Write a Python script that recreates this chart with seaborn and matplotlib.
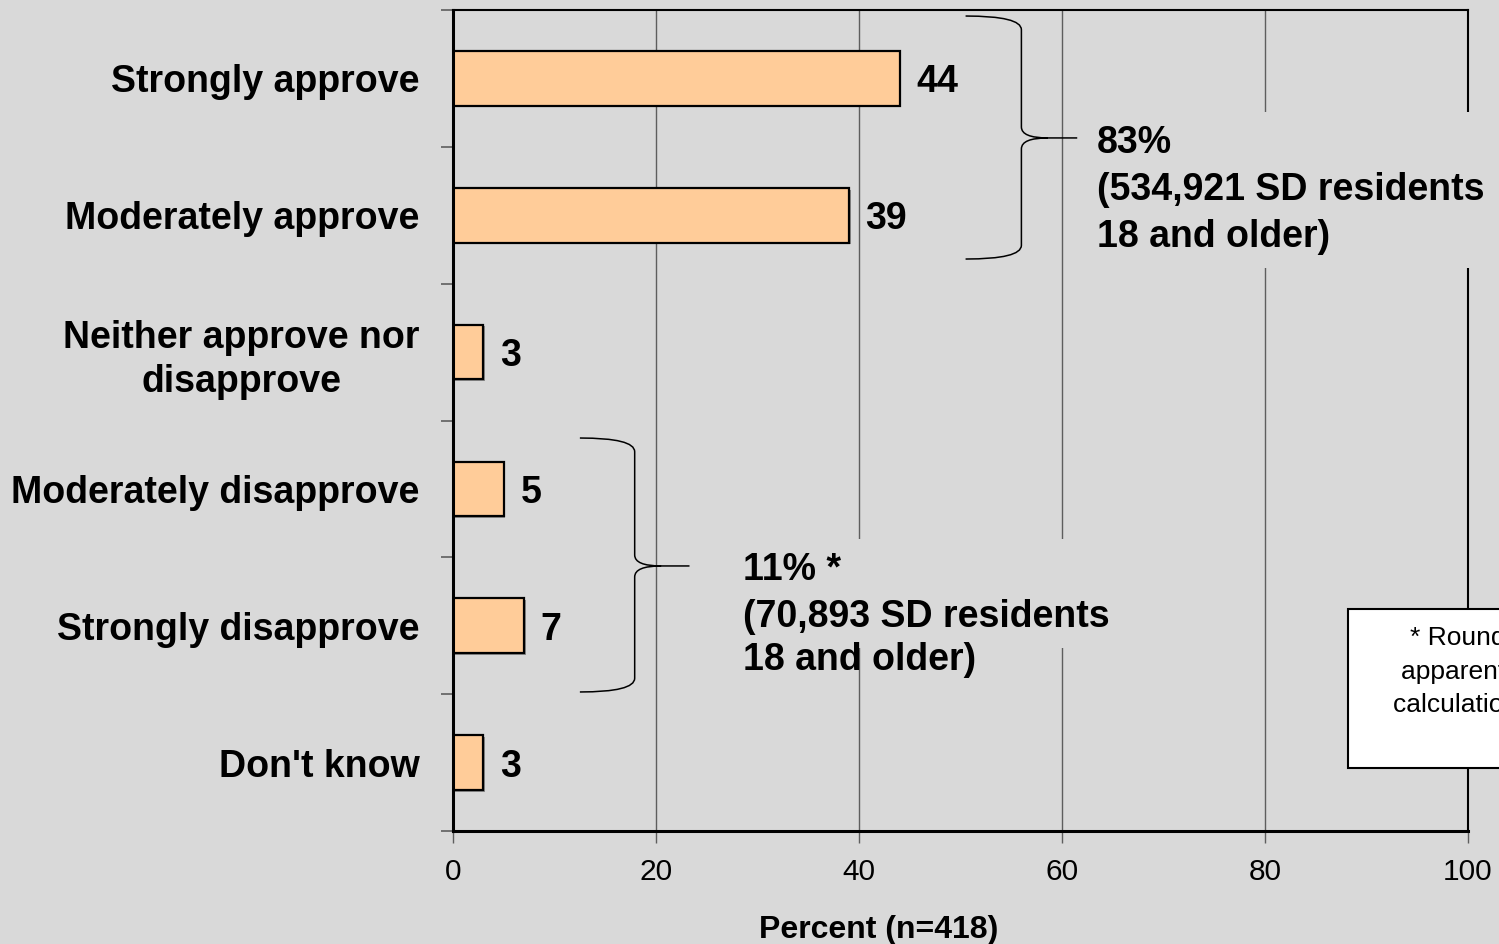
import matplotlib
matplotlib.use("Agg")
import matplotlib.pyplot as plt
import matplotlib.patheffects as pe
from matplotlib.path import Path
from matplotlib.patches import PathPatch, Rectangle
import pandas as pd
import seaborn as sns

# Survey responses
responses = [
    "Strongly approve",
    "Moderately approve",
    "Neither approve nor\ndisapprove",
    "Moderately disapprove",
    "Strongly disapprove",
    "Don't know",
]
percents = [44, 39, 3, 5, 7, 3]
x_ticks = [0, 20, 40, 60, 80, 100]
x_label = "Percent (n=418)"
approve_note = "83%\n(534,921 SD residents\n18 and older)"
disapprove_note_top = "11% *\n(70,893 SD residents"
disapprove_note_bottom = "18 and older)"
rounding_note = "* Rounding causes\napparent error in the\ncalculation of the total"

BG = "#D9D9D9"
BAR = "#FFCC99"

sns.set_theme(style="white")
plt.rcParams["font.family"] = ["Liberation Sans", "DejaVu Sans"]
plt.rcParams.update({
    "text.color": "black",
    "axes.labelcolor": "black",
    "xtick.labelcolor": "black",
    "ytick.labelcolor": "black",
})

df = pd.DataFrame({"response": responses, "percent": percents})

W, H = 1499, 944
fig = plt.figure(figsize=(W / 100, H / 100), dpi=100, facecolor=BG)
ax = fig.add_axes([453 / W, (H - 831) / H, (1468 - 453) / W, (831 - 10) / H])
ax.set_facecolor(BG)

sns.barplot(data=df, x="percent", y="response", orient="h", color=BAR,
            saturation=1, edgecolor="black", linewidth=1.6, width=0.4,
            ax=ax, zorder=2)
for bar in ax.patches:
    bar.set_path_effects([pe.SimplePatchShadow(offset=(1.2, -1.2),
                                               shadow_rgbFace="#7a7a7a",
                                               alpha=0.8),
                          pe.Normal()])

value_labels = ax.bar_label(ax.containers[0],
                            labels=[str(v) for v in percents],
                            padding=12, fontsize=27, fontweight="bold",
                            color="black")
for t in value_labels:
    t.set_va("center_baseline")

# Axis limits, ticks and grid
ax.set_xlim(0, 100)
ax.set_ylim(len(responses) - 0.5, -0.5)
ax.set_xticks(x_ticks)
ax.set_xticklabels([str(t) for t in x_ticks], fontsize=21.5, color="black")
ax.set_axisbelow(True)
ax.grid(axis="x", color="#5e5e5e", linewidth=1.0)
ax.grid(axis="y", visible=False)
ax.tick_params(axis="x", which="major", direction="out", length=8.6,
               width=1.0, color="#5e5e5e", pad=11, bottom=True)
ax.set_yticks(range(len(responses)))
ax.set_yticklabels(responses, fontsize=27, fontweight="bold", color="black")
ax.set_yticks([i - 0.5 for i in range(len(responses) + 1)], minor=True)
ax.tick_params(axis="y", which="major", length=0, pad=24)
ax.tick_params(axis="y", which="minor", direction="out", length=8.6,
               width=1.2, color="#5e5e5e", left=True)
for lbl in ax.get_yticklabels():
    lbl.set_multialignment("center")
    lbl.set_linespacing(1.3)

ax.set_xlabel(x_label, fontsize=23, fontweight="bold", color="black")
ax.set_ylabel("")
ax.xaxis.set_label_coords(0.419, -0.1025)

for side, lw in (("left", 2.2), ("bottom", 2.2), ("top", 1.5), ("right", 1.5)):
    ax.spines[side].set_visible(True)
    ax.spines[side].set_color("black")
    ax.spines[side].set_linewidth(lw)


def brace(ax, x0, x1, x2, ytop, ymid, ybot, r=0.1, rt=0.08, d=2.6):
    """Right-facing curly brace: ends at x0, spine at x1, tip at x2."""
    verts = [
        (x0, ytop), (x1, ytop), (x1, ytop + r),
        (x1, ymid - rt), (x1, ymid), (x1 + d, ymid), (x2, ymid),
        (x1 + d, ymid), (x1, ymid), (x1, ymid + rt),
        (x1, ybot - r), (x1, ybot), (x0, ybot),
    ]
    codes = [
        Path.MOVETO, Path.CURVE3, Path.CURVE3,
        Path.LINETO, Path.CURVE3, Path.CURVE3, Path.LINETO,
        Path.MOVETO, Path.CURVE3, Path.CURVE3,
        Path.LINETO, Path.CURVE3, Path.CURVE3,
    ]
    ax.add_patch(PathPatch(Path(verts, codes), facecolor="none",
                           edgecolor="black", linewidth=1.1, zorder=3,
                           clip_on=False))


brace(ax, 50.5, 56.0, 61.5, -0.456, 0.435, 1.32)
brace(ax, 12.5, 17.9, 23.3, 2.628, 3.563, 4.484)

box = dict(boxstyle="square,pad=0.35", facecolor=BG, edgecolor="none")
ax.text(63.45, 0.34, approve_note, fontsize=27, fontweight="bold",
        ha="left", va="top", linespacing=1.4, bbox=box, zorder=4)
ax.text(28.6, 3.462, disapprove_note_top, fontsize=27, fontweight="bold",
        ha="left", va="top", linespacing=1.4, bbox=box, zorder=4)
ax.text(28.6, 4.12, disapprove_note_bottom, fontsize=27, fontweight="bold",
        ha="left", va="top", zorder=4)

# Footnote box at the right edge
fig.patches.append(Rectangle((1348 / W, (H - 768) / H), 400 / W, 159 / H,
                             transform=fig.transFigure, facecolor="white",
                             edgecolor="black", linewidth=1.5, zorder=5))
fig.text(1521 / W, (H - 626) / H, rounding_note, fontsize=19, ha="center",
         va="top", linespacing=1.5, color="black", zorder=6)

fig.savefig("out.png", dpi=100, facecolor=BG)
